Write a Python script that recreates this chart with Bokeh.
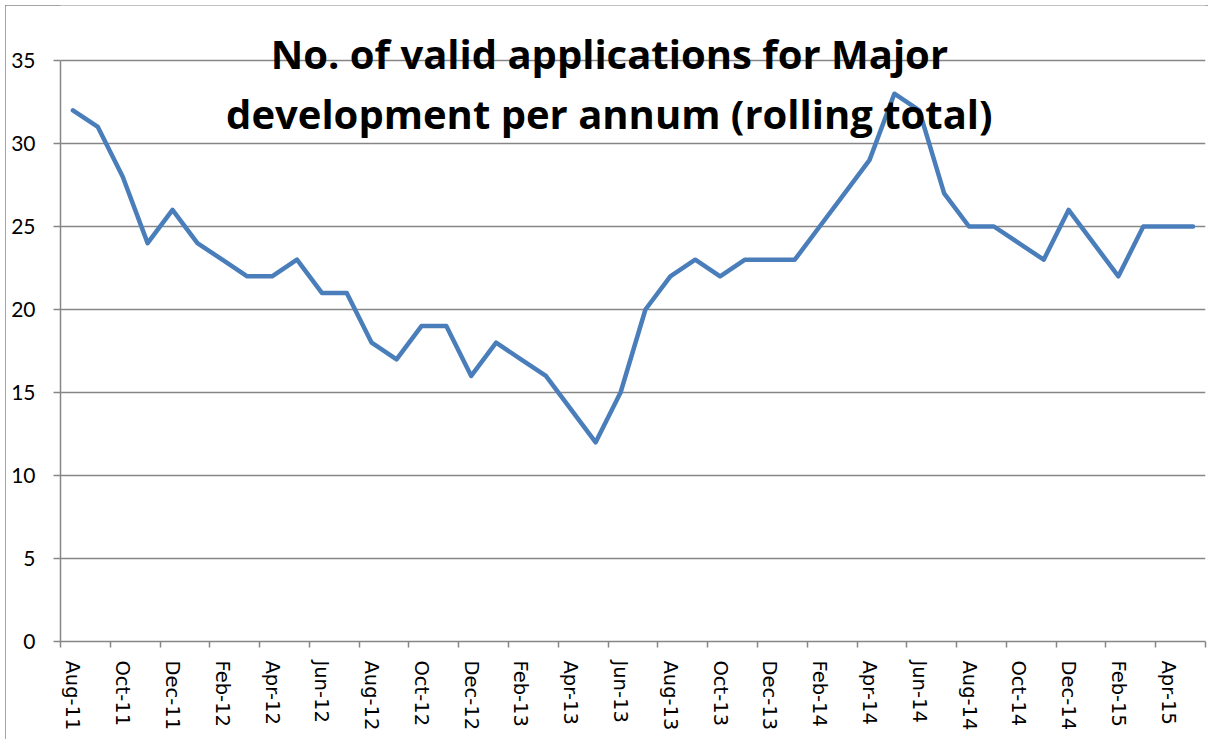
from bokeh.plotting import figure
from bokeh.models import Range1d, FixedTicker, Label, ColumnDataSource
from bokeh.embed import file_html
from bokeh.resources import INLINE

months = ["Aug-11", "Sep-11", "Oct-11", "Nov-11", "Dec-11", "Jan-12", "Feb-12", "Mar-12",
          "Apr-12", "May-12", "Jun-12", "Jul-12", "Aug-12", "Sep-12", "Oct-12", "Nov-12",
          "Dec-12", "Jan-13", "Feb-13", "Mar-13", "Apr-13", "May-13", "Jun-13", "Jul-13",
          "Aug-13", "Sep-13", "Oct-13", "Nov-13", "Dec-13", "Jan-14", "Feb-14", "Mar-14",
          "Apr-14", "May-14", "Jun-14", "Jul-14", "Aug-14", "Sep-14", "Oct-14", "Nov-14",
          "Dec-14", "Jan-15", "Feb-15", "Mar-15", "Apr-15", "May-15"]
applications = [32, 31, 28, 24, 26, 24, 23, 22, 22, 23, 21, 21, 18, 17, 19, 19,
                16, 18, 17, 16, 14, 12, 15, 20, 22, 23, 22, 23, 23, 23, 25, 27,
                29, 33, 32, 27, 25, 25, 24, 23, 26, 24, 22, 25, 25, 25]
y_ticks = [0, 5, 10, 15, 20, 25, 30, 35]
title_lines = ["No. of valid applications for Major", "development per annum (rolling total)"]

n = len(months)
idx = list(range(n))
src = ColumnDataSource(data=dict(x=idx, y=applications, m=months))

# frame spans from the top of the chart so the overlaid title is not clipped
y_top = 35 * 636 / 581
p = figure(width=1203, height=734, x_range=Range1d(-0.5, n - 0.5), y_range=Range1d(0, y_top),
           output_backend="svg", toolbar_location=None,
           min_border_left=55, min_border_top=0, min_border_right=3, min_border_bottom=98)
p.outline_line_color = None
p.background_fill_color = "white"
p.border_fill_color = "white"
p.styles = {"margin-left": "5px", "margin-top": "5px",
            "outline": "1px solid #868686", "outline-offset": "-1px"}

grey = "#868686"

# x axis
xa = p.xaxis[0]
major = [float(i) for i in range(0, n, 2)]
minor = [i - 0.5 for i in range(0, n + 1, 2)]
xa.ticker = FixedTicker(ticks=major, minor_ticks=minor)
xa.major_label_overrides = {float(i): months[i] for i in range(0, n, 2)}
xa.major_label_orientation = "vertical"
xa.major_tick_out = 0
xa.major_tick_in = 0
xa.minor_tick_out = 6
xa.minor_tick_in = 0
xa.minor_tick_line_color = grey
xa.axis_line_color = grey
xa.axis_line_width = 1.5
xa.minor_tick_line_width = 1.5
xa.major_label_text_font = "DejaVu Sans"
xa.major_label_text_font_size = "19.5px"
xa.major_label_text_color = "black"
xa.major_label_standoff = 13

# y axis
ya = p.yaxis[0]
ya.ticker = FixedTicker(ticks=y_ticks)
ya.bounds = (0, 35)
ya.major_tick_out = 7
ya.major_tick_in = 0
ya.minor_tick_out = 0
ya.minor_tick_in = 0
ya.major_tick_line_color = grey
ya.axis_line_color = grey
ya.axis_line_width = 1.5
ya.major_tick_line_width = 1.5
ya.major_label_text_font = "Lato"
ya.major_label_text_font_size = "21px"
ya.major_label_text_color = "black"
ya.major_label_standoff = 18

p.xgrid.visible = False
p.ygrid.grid_line_color = grey
p.ygrid.grid_line_width = 1.5

p.line("x", "y", source=src, line_color="#4a7ebb", line_width=4.5,
       line_join="round", line_cap="round")

for txt, yv in zip(title_lines, [35.40, 31.80]):
    p.add_layout(Label(x=21.55, y=yv, text=txt, text_align="center", text_baseline="alphabetic",
                       text_font="Open Sans", text_font_style="bold", text_font_size="40px",
                       text_color="black"))

open("out.html", "w").write(file_html(p, INLINE))
